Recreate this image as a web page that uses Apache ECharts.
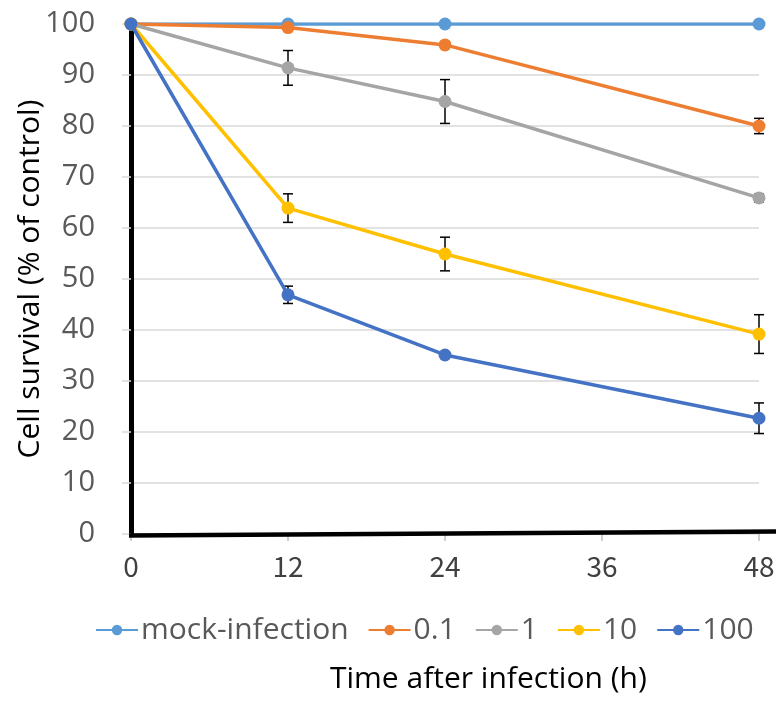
<!DOCTYPE html>
<html>
<head>
<meta charset="utf-8">
<script src="https://cdn.jsdelivr.net/npm/echarts@6/dist/echarts.min.js"></script>
<style>
  html, body { margin: 0; padding: 0; background: #fff; }
  #chart { width: 776px; height: 702px; }
</style>
</head>
<body>
<div id="chart"></div>
<script>
// Time points (hours after infection)
var hours = [0, 12, 24, 48];
var xTicks = [0, 12, 24, 36, 48];

// Series names (MOI) and survival means (% of control)
var seriesNames = ['mock-infection', '0.1', '1', '10', '100'];
var mockInfection = [100, 100, 100, 100];
var moi01 = [100, 99.3, 95.9, 80.0];
var moi1 = [100, 91.4, 84.8, 65.9];
var moi10 = [100, 63.9, 54.9, 39.2];
var moi100 = [100, 46.9, 35.1, 22.7];

// Error bar half-widths (± % of control)
var errMock = [0, 0, 0, 0];
var err01 = [0, 0, 0, 1.5];
var err1 = [0, 3.4, 4.3, 0.8];
var err10 = [0, 2.8, 3.3, 3.8];
var err100 = [0, 1.7, 0, 3.0];

var colors = ['#5B9BD5', '#ED7D31', '#A5A5A5', '#FFC000', '#4472C4'];
var means = [mockInfection, moi01, moi1, moi10, moi100];
var errs = [errMock, err01, err1, err10, err100];

var labelFont = 'Open Sans';

function pairs(ys) {
  return hours.map(function (h, i) { return [h, ys[i]]; });
}

function errorRows() {
  var rows = [];
  means.forEach(function (ys, s) {
    ys.forEach(function (y, i) {
      if (errs[s][i] > 0) rows.push([hours[i], y - errs[s][i], y + errs[s][i]]);
    });
  });
  return rows;
}

var lineSeries = seriesNames.map(function (name, s) {
  return {
    name: name,
    type: 'line',
    data: pairs(means[s]),
    symbol: 'circle',
    symbolSize: 13,
    lineStyle: { width: 3.5, color: colors[s] },
    itemStyle: { color: colors[s] },
    z: 3 + s
  };
});

var errorSeries = {
  type: 'custom',
  name: 'error',
  data: errorRows(),
  z: 2,
  silent: true,
  renderItem: function (params, api) {
    var x = api.value(0);
    var lo = api.coord([x, api.value(1)]);
    var hi = api.coord([x, api.value(2)]);
    var cap = 5;
    var style = { stroke: '#000', lineWidth: 1.5, fill: null };
    return {
      type: 'group',
      children: [
        { type: 'line', shape: { x1: lo[0], y1: lo[1], x2: hi[0], y2: hi[1] }, style: style },
        { type: 'line', shape: { x1: lo[0] - cap, y1: lo[1], x2: lo[0] + cap, y2: lo[1] }, style: style },
        { type: 'line', shape: { x1: hi[0] - cap, y1: hi[1], x2: hi[0] + cap, y2: hi[1] }, style: style }
      ]
    };
  }
};

var chart = echarts.init(document.getElementById('chart'), null, { renderer: 'canvas' });
chart.setOption({
  animation: false,
  backgroundColor: '#ffffff',
  grid: { left: 131, right: 17, top: 24, bottom: 168, containLabel: false, outerBoundsMode: 'none' },
  legend: {
    data: seriesNames,
    left: 90,
    top: 610,
    itemWidth: 42,
    itemHeight: 13,
    itemGap: 19,
    textStyle: { fontFamily: labelFont, fontSize: 30, color: '#595959', padding: [0, 0, 0, -2] }
  },
  xAxis: {
    type: 'value',
    min: 0,
    max: 48,
    interval: 12,
    axisLine: { show: false },
    axisTick: { show: true, length: 7, lineStyle: { color: '#BFBFBF', width: 1.5 } },
    splitLine: { show: false },
    axisLabel: {
      margin: 18,
      fontFamily: 'Noto Sans CJK JP',
      fontSize: 28,
      color: '#404040',
      formatter: function (v) { return xTicks.indexOf(v) >= 0 ? String(v) : ''; }
    }
  },
  yAxis: {
    type: 'value',
    min: 0,
    max: 100,
    interval: 10,
    name: 'Cell survival (% of control)',
    nameLocation: 'middle',
    nameRotate: 90,
    nameGap: 86,
    nameMoveOverlap: false,
    nameTextStyle: { fontFamily: labelFont, fontSize: 30, color: '#000' },
    axisLine: { show: true, lineStyle: { color: '#000', width: 5 } },
    axisTick: { show: true, length: 9, lineStyle: { color: '#D9D9D9', width: 1.5 } },
    splitLine: { show: true, lineStyle: { color: '#D9D9D9', width: 1.5 } },
    axisLabel: { margin: 36, fontFamily: labelFont, fontSize: 29, color: '#595959' }
  },
  graphic: [
    {
      type: 'line',
      shape: { x1: 129, y1: 535.5, x2: 776, y2: 531.5 },
      style: { stroke: '#000', lineWidth: 4.5 },
      z: 10
    },
    {
      type: 'text',
      left: 330,
      top: 664,
      style: { text: 'Time after infection (h)', fontFamily: labelFont, fontSize: 30, fill: '#000' }
    }
  ],
  series: [errorSeries].concat(lineSeries)
});
</script>
</body>
</html>
